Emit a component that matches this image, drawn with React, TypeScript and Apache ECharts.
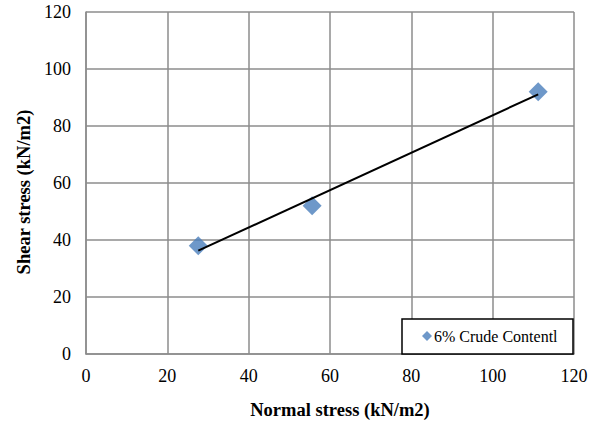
import React, { useEffect, useRef } from "react";
import * as echarts from "echarts";

const seriesName = "6% Crude Contentl";
const normalStress = [27.6, 55.6, 111.2];
const shearStress = [38, 52, 92];
const xTicks = [0, 20, 40, 60, 80, 100, 120];
const yTicks = [0, 20, 40, 60, 80, 100, 120];
const xTitle = "Normal stress (kN/m2)";
const yTitle = "Shear stress (kN/m2)";

function linearFit(xs: number[], ys: number[]) {
  const n = xs.length;
  const mx = xs.reduce((a, b) => a + b, 0) / n;
  const my = ys.reduce((a, b) => a + b, 0) / n;
  let sxy = 0;
  let sxx = 0;
  for (let i = 0; i < n; i++) {
    sxy += (xs[i] - mx) * (ys[i] - my);
    sxx += (xs[i] - mx) * (xs[i] - mx);
  }
  const slope = sxy / sxx;
  return { slope, intercept: my - slope * mx };
}

export default function App() {
  const ref = useRef<HTMLDivElement>(null);
  useEffect(() => {
    if (!ref.current) return;
    const chart = echarts.init(ref.current, null, { renderer: "svg" });
    const fit = linearFit(normalStress, shearStress);
    const xMinD = Math.min(...normalStress);
    const xMaxD = Math.max(...normalStress);
    const trend = [
      [xMinD, fit.slope * xMinD + fit.intercept],
      [xMaxD, fit.slope * xMaxD + fit.intercept],
    ];
    const font = "'Liberation Serif', 'Times New Roman', serif";
    const gridColor = "#8c8c8c";
    chart.setOption({
      animation: false,
      backgroundColor: "#ffffff",
      textStyle: { fontFamily: font },
      grid: { left: 86, top: 12, width: 488, height: 342, containLabel: false },
      xAxis: {
        type: "value",
        min: xTicks[0],
        max: xTicks[xTicks.length - 1],
        interval: 20,
        axisLine: { show: true, lineStyle: { color: gridColor, width: 1.5 } },
        axisTick: { show: false },
        axisLabel: { color: "#000", fontSize: 18, fontFamily: font, margin: 13 },
        splitLine: { show: true, lineStyle: { color: gridColor, width: 1.5 } },
      },
      yAxis: {
        type: "value",
        min: yTicks[0],
        max: yTicks[yTicks.length - 1],
        interval: 20,
        axisLine: { show: true, lineStyle: { color: gridColor, width: 1.5 } },
        axisTick: { show: false },
        axisLabel: { color: "#000", fontSize: 18, fontFamily: font, margin: 15 },
        splitLine: { show: true, lineStyle: { color: gridColor, width: 1.5 } },
      },
      legend: {
        data: [{ name: seriesName, icon: "diamond" }],
        left: 422,
        top: 328,
        padding: 0,
        itemWidth: 10,
        itemHeight: 10,
        itemGap: 0,
        textStyle: { color: "#000", fontSize: 16, fontFamily: font, padding: [0, 0, 0, -3] },
      },
      graphic: [
        {
          type: "rect",
          shape: { x: 402, y: 319, width: 171, height: 35 },
          style: { fill: "#fff", stroke: "#000", lineWidth: 1.5 },
          z: 1,
          silent: true,
        },
        {
          type: "text",
          x: 340,
          y: 410,
          style: {
            text: xTitle,
            fontSize: 18.5,
            fontWeight: "bold",
            fontFamily: font,
            fill: "#000",
            align: "center",
            verticalAlign: "middle",
          },
        },
        {
          type: "text",
          x: 24,
          y: 192,
          rotation: Math.PI / 2,
          style: {
            text: yTitle,
            fontSize: 18.5,
            fontWeight: "bold",
            fontFamily: font,
            fill: "#000",
            align: "center",
            verticalAlign: "middle",
          },
        },
      ],
      series: [
        {
          name: "trend",
          type: "line",
          data: trend,
          symbol: "none",
          lineStyle: { color: "#000", width: 2 },
          silent: true,
          z: 2,
        },
        {
          name: seriesName,
          type: "scatter",
          data: normalStress.map((x, i) => [x, shearStress[i]]),
          symbol: "diamond",
          symbolSize: [19, 19],
          itemStyle: { color: "#4a7ebb" },
          z: 1,
        },
      ],
    });
    return () => chart.dispose();
  }, []);
  return (
    <div
      ref={ref}
      style={{ position: "absolute", left: 0, top: 0, width: 600, height: 429 }}
    />
  );
}
